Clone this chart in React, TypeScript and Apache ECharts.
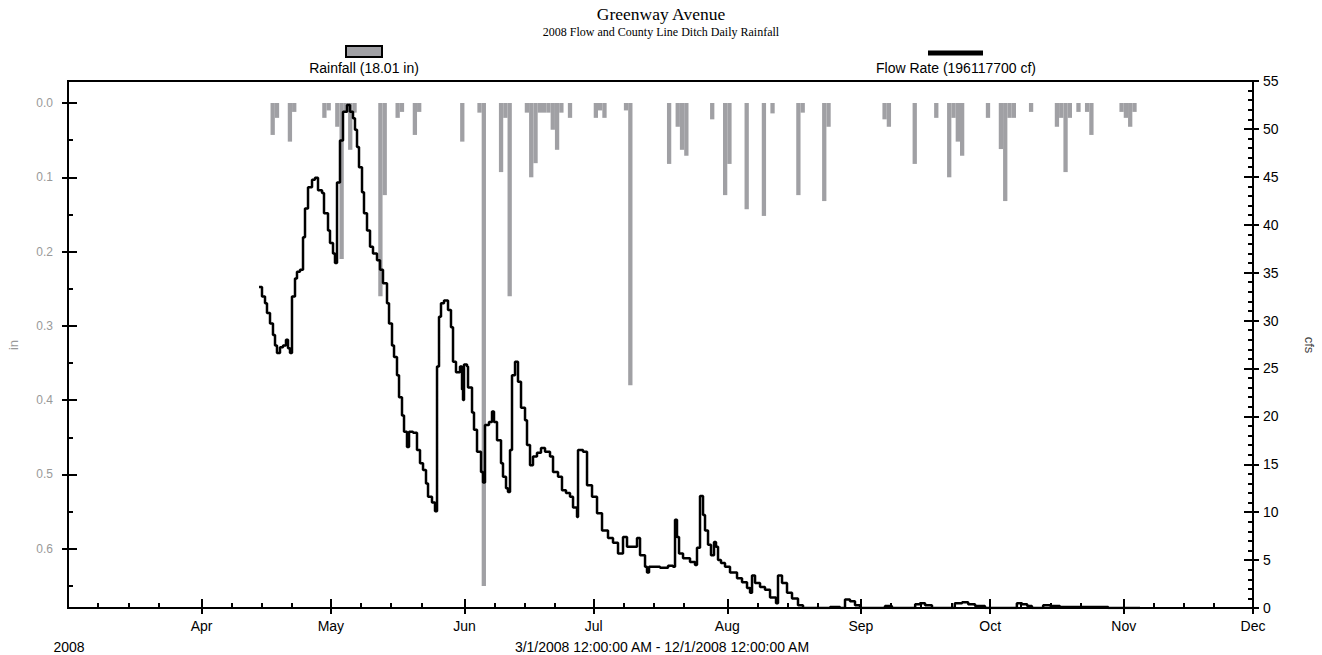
import React, { useEffect, useRef } from 'react';
import * as echarts from 'echarts';

const titleText = 'Greenway Avenue';
const subtitleText = '2008 Flow and County Line Ditch Daily Rainfall';
const rainLegend = 'Rainfall (18.01 in)';
const flowLegend = 'Flow Rate (196117700 cf)';
const rangeText = '3/1/2008 12:00:00 AM - 12/1/2008 12:00:00 AM';
const yearText = '2008';
const rainAxisName = 'in';
const flowAxisName = 'cfs';

const monthNames = ['Jan', 'Feb', 'Mar', 'Apr', 'May', 'Jun', 'Jul', 'Aug', 'Sep', 'Oct', 'Nov', 'Dec'];
const monthTickDates = ['2008-04-01', '2008-05-01', '2008-06-01', '2008-07-01', '2008-08-01', '2008-09-01', '2008-10-01', '2008-11-01', '2008-12-01'];
const minorTickMonths = ['2008-03', '2008-04', '2008-05', '2008-06', '2008-07', '2008-08', '2008-09', '2008-10', '2008-11'];
const minorTickDaysOfMonth = [8, 15, 22];
const rainTickLabels = [0, 0.1, 0.2, 0.3, 0.4, 0.5, 0.6];
const rainMinorTicks = [0.05, 0.15, 0.25, 0.35, 0.45, 0.55, 0.65];
const flowTickLabels = [0, 5, 10, 15, 20, 25, 30, 35, 40, 45, 50, 55];
const flowMinorTicks = [1, 2, 3, 4, 6, 7, 8, 9, 11, 12, 13, 14, 16, 17, 18, 19, 21, 22, 23, 24, 26, 27, 28, 29, 31, 32, 33, 34, 36, 37, 38, 39, 41, 42, 43, 44, 46, 47, 48, 49, 51, 52, 53, 54];

// Daily rainfall (in)
const rainDates = [
  '2008-04-17', '2008-04-18', '2008-04-21', '2008-04-22', '2008-04-29', '2008-04-30',
  '2008-05-02', '2008-05-03', '2008-05-04', '2008-05-05', '2008-05-06', '2008-05-12', '2008-05-13',
  '2008-05-16', '2008-05-17', '2008-05-20', '2008-05-21', '2008-05-31',
  '2008-06-04', '2008-06-05', '2008-06-09', '2008-06-10', '2008-06-11', '2008-06-15', '2008-06-16',
  '2008-06-17', '2008-06-18', '2008-06-19', '2008-06-20', '2008-06-21', '2008-06-22', '2008-06-23', '2008-06-25',
  '2008-07-01', '2008-07-02', '2008-07-03', '2008-07-08', '2008-07-09', '2008-07-18', '2008-07-20',
  '2008-07-21', '2008-07-22', '2008-07-28', '2008-07-31',
  '2008-08-01', '2008-08-05', '2008-08-09', '2008-08-11', '2008-08-17', '2008-08-18', '2008-08-23', '2008-08-24',
  '2008-09-06', '2008-09-07', '2008-09-13', '2008-09-18', '2008-09-21', '2008-09-22', '2008-09-23', '2008-09-24', '2008-09-30',
  '2008-10-03', '2008-10-04', '2008-10-05', '2008-10-06', '2008-10-10', '2008-10-16', '2008-10-17', '2008-10-18',
  '2008-10-19', '2008-10-21', '2008-10-23', '2008-10-24', '2008-10-31',
  '2008-11-01', '2008-11-02', '2008-11-03'
];
const rainInches = [
  0.043, 0.02, 0.052, 0.012, 0.02, 0.01,
  0.032, 0.21, 0.013, 0.063, 0.013, 0.26, 0.124,
  0.02, 0.012, 0.043, 0.012, 0.052,
  0.013, 0.65, 0.093, 0.02, 0.26, 0.013, 0.10,
  0.081, 0.013, 0.013, 0.013, 0.036, 0.063, 0.013, 0.02,
  0.02, 0.01, 0.02, 0.01, 0.38, 0.082, 0.032,
  0.063, 0.071, 0.022, 0.124,
  0.082, 0.143, 0.152, 0.014, 0.124, 0.013, 0.132, 0.032,
  0.022, 0.032, 0.082, 0.02, 0.10, 0.02, 0.052, 0.071, 0.02,
  0.062, 0.132, 0.02, 0.02, 0.012, 0.032, 0.02, 0.093,
  0.02, 0.012, 0.012, 0.043, 0.012,
  0.02, 0.032, 0.012
];

// Flow rate (cfs); time given as days after 3/1/2008 12:00 AM
const flowDays = [
  44.33, 45.02, 45.72, 46.18, 46.88, 47.57, 48.04, 48.50, 49.20, 49.90, 50.59, 51.06, 51.52, 51.98,
  52.68, 53.14, 53.84, 54.54, 55.00, 55.70, 56.63, 57.32, 58.02, 58.95, 59.41, 60.34, 60.80, 61.50,
  61.96, 62.43, 63.12, 63.82, 64.75, 65.44, 66.14, 66.60, 67.07, 67.53, 68.23, 68.69, 69.39, 70.09,
  70.78, 71.71, 72.41, 73.10, 74.03, 74.50, 75.19, 75.66, 76.35, 76.82, 77.51, 77.98, 78.67, 79.14,
  80.07, 80.99, 81.69, 82.39, 83.08, 83.55, 84.47, 85.17, 85.64, 86.10, 86.56, 87.26, 88.19, 88.88,
  89.35, 90.04, 90.97, 91.44, 91.67, 91.90, 92.60, 92.83, 93.76, 94.22, 94.92, 95.85, 96.31, 96.77,
  97.70, 98.40, 98.86, 99.56, 100.49, 100.95, 101.65, 102.11, 102.58, 103.04, 103.74, 104.43, 105.13,
  106.06, 106.52, 107.22, 107.91, 108.84, 109.77, 110.70, 111.86, 112.56, 113.72, 114.64, 115.57,
  116.50, 117.20, 118.13, 118.36, 119.52, 120.45, 121.61, 122.77, 123.93, 125.32, 126.48, 127.64,
  128.80, 129.73, 130.89, 132.05, 132.75, 133.91, 134.37, 134.84, 137.39, 139.25, 140.40, 140.87,
  141.33, 141.80, 142.73, 144.35, 145.51, 145.97, 146.67, 147.37, 147.83, 148.53, 149.22, 149.92,
  150.38, 150.85, 151.54, 152.47, 153.63, 155.26, 156.42, 157.58, 158.28, 158.74, 159.44, 160.60,
  161.75, 162.92, 164.31, 164.77, 165.70, 166.86, 168.02, 169.41, 170.57, 176.84, 179.16, 180.32,
  181.48, 182.64, 183.80, 189.6, 191.2, 196.6, 197.7, 198.9, 200.5, 205.8, 207.5, 208.9, 210.5,
  212.8, 220.2, 221.4, 222.6, 223.7, 226.3, 227.9, 230.2, 240.2, 241.4, 248.8
];
const flowCfs = [
  33.5, 32.5, 31.8, 30.8, 29.7, 28.5, 27.4, 26.6, 27.2, 27.4, 28.0, 27.1, 26.6, 32.5,
  34.4, 35.1, 35.3, 38.7, 41.7, 43.9, 44.7, 44.9, 43.6, 43.3, 41.2, 39.4, 38.1, 37.0,
  36.0, 44.4, 48.8, 51.8, 52.5, 51.8, 51.1, 49.9, 48.1, 46.0, 43.4, 41.2, 39.4, 37.7,
  37.0, 36.3, 35.3, 33.9, 31.8, 29.7, 27.4, 26.2, 24.3, 22.0, 20.1, 18.4, 16.8, 18.4,
  18.3, 16.5, 15.1, 14.4, 13.0, 11.6, 11.0, 10.1, 25.2, 30.4, 31.8, 32.1, 31.1, 29.3,
  25.7, 24.6, 25.2, 22.8, 21.7, 25.4, 25.2, 23.0, 20.4, 18.6, 16.3, 14.2, 13.1, 19.1,
  19.4, 20.5, 19.4, 17.5, 15.1, 13.7, 12.5, 12.1, 16.5, 24.3, 25.7, 23.6, 20.9,
  19.6, 17.0, 14.9, 15.8, 16.2, 16.7, 16.3, 15.8, 14.2, 13.7, 12.3, 12.0,
  11.6, 10.5, 9.5, 16.5, 16.3, 12.8, 11.6, 9.9, 8.1, 7.3, 6.8, 5.7,
  7.4, 6.4, 6.4, 7.3, 5.5, 4.3, 3.7, 4.3, 4.2, 4.4, 4.3, 9.2,
  7.4, 5.7, 5.2, 4.8, 4.5, 6.3, 11.7, 9.7, 8.1, 6.6, 5.5, 6.9,
  6.4, 5.0, 4.7, 4.3, 3.7, 3.1, 2.7, 2.1, 1.6, 3.4, 2.6, 2.2,
  1.9, 1.1, 0.5, 3.4, 2.6, 1.6, 1.0, 0.3, 0.0, 0.1, 0.0, 0.9,
  0.7, 0.3, 0.0, 0.2, 0.0, 0.4, 0.5, 0.3, 0.0, 0.5, 0.6, 0.4, 0.2,
  0.0, 0.5, 0.4, 0.2, 0.0, 0.3, 0.2, 0.1, 0.1, 0.0, 0.0
];

const DAY = 86400000;
const parseDate = (s: string) => {
  const [y, m, d] = s.split('-').map(Number);
  return new Date(y, m - 1, d || 1).getTime();
};

export default function App() {
  const ref = useRef<HTMLDivElement>(null);
  useEffect(() => {
    if (!ref.current) return;
    const chart = echarts.init(ref.current, undefined, { renderer: 'svg' });
    const start = new Date(2008, 2, 1).getTime();
    const end = new Date(2008, 11, 1).getTime();
    const monthTicks = monthTickDates.map(parseDate);
    const minorTicks: number[] = [];
    minorTickMonths.forEach((m) => {
      minorTickDaysOfMonth.forEach((d) => minorTicks.push(parseDate(m + '-' + d)));
    });
    const sans = 'Liberation Sans, Arial, sans-serif';
    const black = '#000';
    const tickStyle = { color: black, width: 2 };
    const hiddenLine = { show: false, onZero: false };

    const xBase: any = { type: 'value', min: start, max: end, position: 'bottom', splitLine: { show: false }, scale: true };
    const rainBase: any = { type: 'value', inverse: true, min: -0.0296, max: 0.6797, position: 'left', splitLine: { show: false } };
    const flowBase: any = { type: 'value', min: 0, max: 55, position: 'right', splitLine: { show: false } };

    const option: any = {
      animation: false,
      backgroundColor: '#fff',
      title: {
        text: titleText,
        subtext: subtitleText,
        left: 'center',
        top: 0,
        itemGap: 3,
        textStyle: { fontFamily: 'Liberation Serif', fontSize: 17.5, fontWeight: 'normal', color: black },
        subtextStyle: { fontFamily: 'Liberation Serif', fontSize: 12, color: black }
      },
      grid: { left: 68, right: 69, top: 81, bottom: 47, show: true, borderColor: black, borderWidth: 2, containLabel: false },
      xAxis: [
        {
          ...xBase,
          axisLine: { show: true, onZero: false, lineStyle: { color: black, width: 2 } },
          axisTick: { show: true, customValues: monthTicks, length: 6, inside: false, lineStyle: tickStyle },
          axisLabel: {
            show: true, customValues: monthTicks, color: black, fontSize: 14, fontFamily: sans, margin: 11,
            formatter: (v: number) => monthNames[new Date(v).getMonth()]
          }
        },
        {
          ...xBase,
          axisLine: hiddenLine,
          axisTick: { show: true, customValues: monthTicks, length: 9, inside: true, lineStyle: tickStyle },
          axisLabel: { show: false }
        },
        {
          ...xBase,
          axisLine: hiddenLine,
          axisTick: { show: true, customValues: minorTicks, length: 5, inside: true, lineStyle: tickStyle },
          axisLabel: { show: false }
        }
      ],
      yAxis: [
        {
          ...rainBase,
          axisLine: { show: true, onZero: false, lineStyle: { color: black, width: 2 } },
          axisTick: { show: true, customValues: rainTickLabels, length: 6, inside: false, lineStyle: tickStyle },
          axisLabel: {
            show: true, customValues: rainTickLabels, color: '#999', fontSize: 12, fontFamily: sans, margin: 15,
            formatter: (v: number) => v.toFixed(1)
          }
        },
        {
          ...rainBase,
          axisLine: hiddenLine,
          axisTick: { show: true, customValues: rainTickLabels, length: 9, inside: true, lineStyle: tickStyle },
          axisLabel: { show: false }
        },
        {
          ...rainBase,
          axisLine: hiddenLine,
          axisTick: { show: true, customValues: rainMinorTicks, length: 5, inside: true, lineStyle: tickStyle },
          axisLabel: { show: false }
        },
        {
          ...flowBase,
          axisLine: { show: true, onZero: false, lineStyle: { color: black, width: 2 } },
          axisTick: { show: true, customValues: flowTickLabels, length: 6, inside: false, lineStyle: tickStyle },
          axisLabel: { show: true, customValues: flowTickLabels, color: black, fontSize: 14, fontFamily: sans, margin: 10 }
        },
        {
          ...flowBase,
          axisLine: hiddenLine,
          axisTick: { show: true, customValues: flowTickLabels, length: 9, inside: true, lineStyle: tickStyle },
          axisLabel: { show: false }
        },
        {
          ...flowBase,
          axisLine: hiddenLine,
          axisTick: { show: true, customValues: flowMinorTicks, length: 5, inside: true, lineStyle: tickStyle },
          axisLabel: { show: false }
        }
      ],
      series: [
        {
          type: 'bar',
          name: rainLegend,
          xAxisIndex: 0,
          yAxisIndex: 0,
          barWidth: 4.3,
          silent: true,
          itemStyle: { color: '#a0a0a4' },
          data: rainDates.map((d, i) => [parseDate(d) + DAY / 2, rainInches[i]])
        },
        {
          type: 'line',
          name: flowLegend,
          xAxisIndex: 0,
          yAxisIndex: 3,
          step: 'end',
          symbol: 'none',
          showSymbol: false,
          silent: true,
          z: 5,
          lineStyle: { color: black, width: 2.5 },
          data: flowDays.map((d, i) => [start + d * DAY, flowCfs[i]])
        }
      ],
      graphic: [
        { type: 'rect', shape: { x: 346, y: 46, width: 36, height: 11 }, style: { fill: '#a0a0a4', stroke: black, lineWidth: 2 } },
        { type: 'text', x: 364, y: 68, style: { text: rainLegend, font: '14px ' + sans, fill: black, textAlign: 'center', textVerticalAlign: 'middle' } },
        { type: 'line', shape: { x1: 928, y1: 53, x2: 983, y2: 53 }, style: { stroke: black, lineWidth: 5 } },
        { type: 'text', x: 956, y: 68, style: { text: flowLegend, font: '14px ' + sans, fill: black, textAlign: 'center', textVerticalAlign: 'middle' } },
        { type: 'text', x: 69, y: 647, style: { text: yearText, font: '14px ' + sans, fill: black, textAlign: 'center', textVerticalAlign: 'middle' } },
        { type: 'text', x: 662, y: 647, style: { text: rangeText, font: '14px ' + sans, fill: black, textAlign: 'center', textVerticalAlign: 'middle' } },
        { type: 'text', x: 13, y: 345, rotation: Math.PI / 2, style: { text: rainAxisName, font: '13px ' + sans, fill: '#999', textAlign: 'center', textVerticalAlign: 'middle' } },
        { type: 'text', x: 1309, y: 345, rotation: -Math.PI / 2, style: { text: flowAxisName, font: '13px ' + sans, fill: '#444', textAlign: 'center', textVerticalAlign: 'middle' } }
      ]
    };
    chart.setOption(option);
    return () => chart.dispose();
  }, []);
  return <div ref={ref} style={{ position: 'absolute', left: 0, top: 0, width: 1322, height: 655 }} />;
}
